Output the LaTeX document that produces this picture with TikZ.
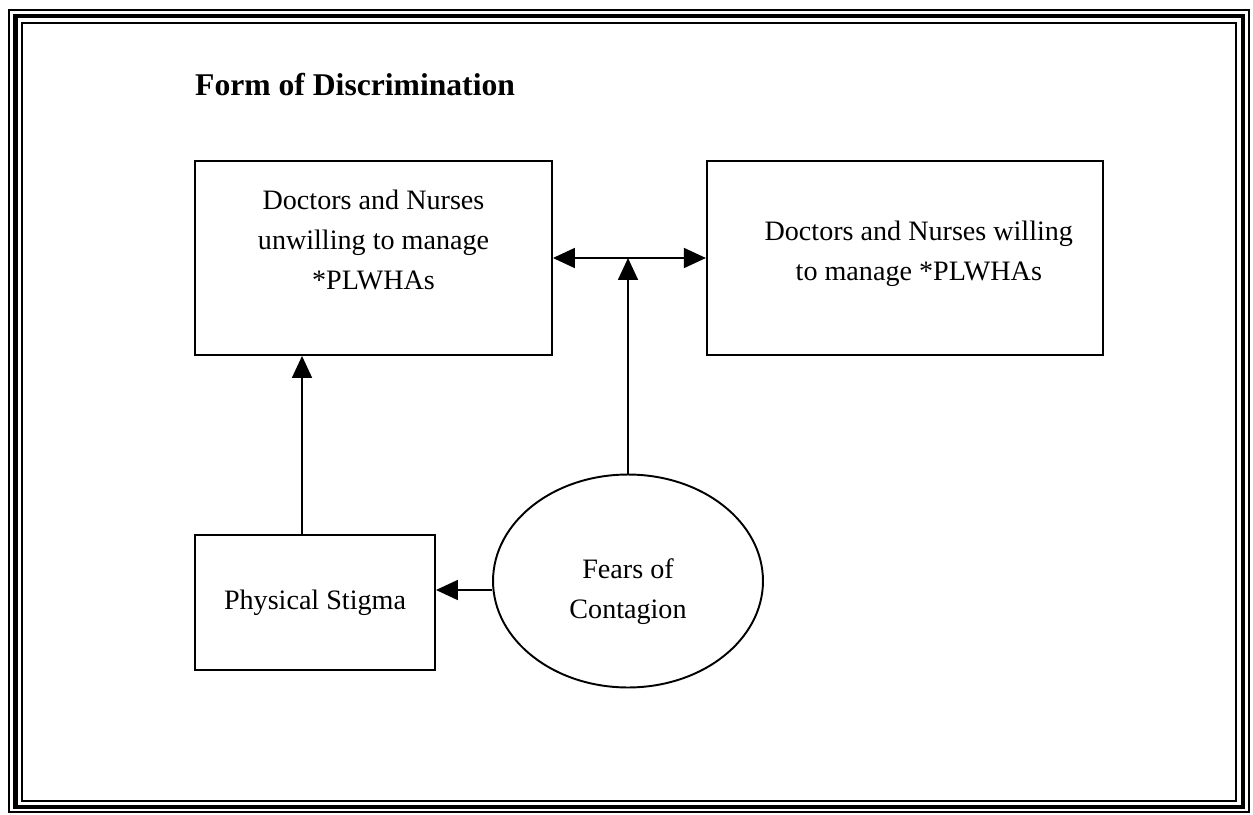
\documentclass[tikz,border=0pt]{standalone}
\usepackage{fontspec}
\setmainfont{Liberation Serif}
\usetikzlibrary{positioning,arrows.meta,shapes.geometric}
\tikzset{
>={Triangle[length=0.44cm,width=0.4cm]}, % big filled arrow heads
box/.style={draw, line width=1.1pt, minimum height=3.88cm}, % the rectangles
bubble/.style={draw, ellipse, line width=1.1pt, minimum width=5.4cm, minimum height=4.26cm}, % the oval
txt/.style={align=center, font=\fontsize{16}{22.7}\selectfont}, % text inside shapes
ttl/.style={font=\bfseries\fontsize{18}{22}\selectfont}, % heading
link/.style={->, line width=1pt}, % connectors
}
\begin{document}
\begin{tikzpicture}[x=0.02cm, y=-0.02cm]
\useasboundingbox (0,0) rectangle (1253,814);
% frame round the page
\draw[line width=1.1pt] (9,10) rectangle (1249,812);
\draw[line width=2.8pt] (15.5,16) rectangle (1243,807);
\draw[line width=1.4pt] (22,23) rectangle (1236,801);

\node[ttl, anchor=base west] (head) at (189,96) {Form of Discrimination};

\node[box, minimum width=7.14cm] (unw) at (373.5,258) {};
\node[box, minimum width=7.92cm, right=3.06cm of unw] (wil) {};
\node[box, minimum width=4.8cm, minimum height=2.7cm, below=3.56cm of unw.south west, anchor=north west] (phys) {};
\node[bubble] (fear) at (628,581) {};

\node[txt] (unwtext) at ([yshift=0.36cm]unw.center) {Doctors and Nurses\\unwilling to manage\\*PLWHAs};
\node[txt] (wiltext) at ([xshift=0.28cm, yshift=0.08cm]wil.center) {Doctors and Nurses willing\\to manage *PLWHAs};
\node[txt] (phystext) at (phys.center) {Physical Stigma};
\node[txt] (feartext) at ([yshift=-0.22cm]fear.center) {Fears of\\Contagion};

\draw[link, <->] (unw.east) -- (unw.east -| wil.west);
\draw[link] (fear.north) -- (fear.north |- unw.east);
\draw[link] ([xshift=-0.26cm]phys.north) -- ([xshift=-0.26cm]phys.north |- unw.south);
\draw[link] ([yshift=-0.18cm]fear.west) -- ([yshift=-0.18cm]fear.west -| phys.east);
\end{tikzpicture}
\end{document}
